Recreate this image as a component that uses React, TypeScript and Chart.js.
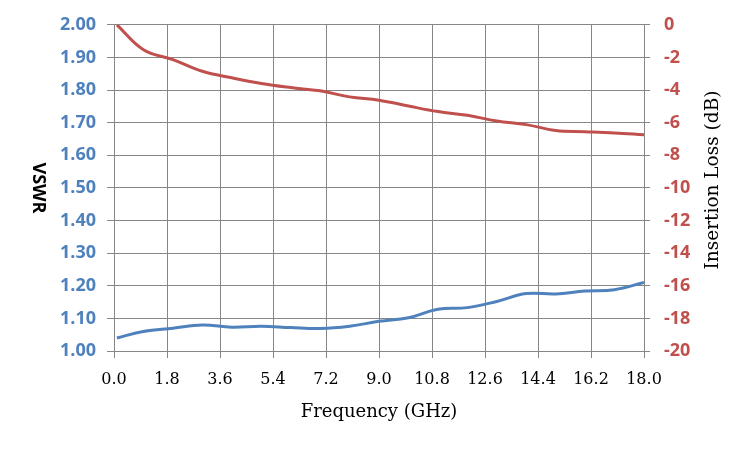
import React, { useEffect, useRef } from 'react';
import { Chart, ChartConfiguration, Plugin, registerables } from 'chart.js';

Chart.register(...registerables);

// frequency points (GHz)
const freqs = [0.1, 1, 2, 3, 4, 5, 6, 7, 8, 9, 10, 11, 12, 13, 14, 15, 16, 17, 18];
// VSWR (left axis)
const vswr = [1.04, 1.06, 1.07, 1.08, 1.073, 1.076, 1.072, 1.069, 1.076, 1.091, 1.102, 1.128, 1.133, 1.152, 1.176, 1.175, 1.184, 1.188, 1.21];
// Insertion loss in dB (right axis)
const insertionLoss = [0, -1.53, -2.13, -2.85, -3.25, -3.6, -3.85, -4.05, -4.42, -4.62, -4.98, -5.32, -5.55, -5.9, -6.12, -6.48, -6.55, -6.63, -6.74];

const xTitle = 'Frequency (GHz)';
const leftTitle = 'VSWR';
const rightTitle = 'Insertion Loss (dB)';

const BLUE = '#4F81BD';
const RED = '#C0504D';
const GRID = '#868686';

const titlesPlugin: Plugin = {
  id: 'axisTitles',
  afterDraw(chart) {
    const { ctx, chartArea } = chart;
    const midY = (chartArea.top + chartArea.bottom) / 2;
    ctx.save();
    ctx.fillStyle = '#000';
    ctx.textAlign = 'center';
    ctx.textBaseline = 'middle';

    // left title, rotated clockwise
    ctx.save();
    ctx.translate(38.5, midY);
    ctx.rotate(Math.PI / 2);
    ctx.font = 'bold 18px "Open Sans"';
    ctx.fillText(leftTitle, 0, 0);
    ctx.restore();

    // right title, rotated counter-clockwise
    ctx.save();
    ctx.translate(713, 180);
    ctx.rotate(-Math.PI / 2);
    ctx.font = '18.5px "DejaVu Serif"';
    ctx.fillText(rightTitle, 0, 0);
    ctx.restore();

    ctx.font = '18px "DejaVu Serif"';
    ctx.fillText(xTitle, (chartArea.left + chartArea.right) / 2, 412);
    ctx.restore();
  },
};

const App: React.FC = () => {
  const canvasRef = useRef<HTMLCanvasElement | null>(null);

  useEffect(() => {
    document.body.style.margin = '0';
    if (!canvasRef.current) return;

    const config: ChartConfiguration<'line'> = {
      type: 'line',
      data: {
        datasets: [
          {
            label: 'VSWR',
            data: freqs.map((f, i) => ({ x: f, y: vswr[i] })),
            borderColor: BLUE,
            borderWidth: 3,
            pointRadius: 0,
            tension: 0.4,
            yAxisID: 'y',
          },
          {
            label: 'Insertion Loss',
            data: freqs.map((f, i) => ({ x: f, y: insertionLoss[i] })),
            borderColor: RED,
            borderWidth: 3,
            pointRadius: 0,
            tension: 0.4,
            yAxisID: 'y2',
          },
        ],
      },
      options: {
        responsive: false,
        animation: false,
        layout: { padding: { top: 23, left: 0, right: 0, bottom: 0 } },
        plugins: {
          legend: { display: false },
          tooltip: { enabled: false },
        },
        scales: {
          x: {
            type: 'linear',
            min: 0,
            max: 18,
            grid: { color: GRID, tickLength: 7, tickColor: GRID },
            border: { color: GRID },
            ticks: {
              stepSize: 1.8,
              color: '#000',
              padding: 12,
              font: { family: '"DejaVu Serif"', size: 16 },
              callback: (v) => Number(v).toFixed(1),
            },
            afterFit: (scale) => {
              scale.height = 99;
            },
          },
          y: {
            position: 'left',
            min: 1,
            max: 2,
            grid: { color: GRID, tickLength: 7, tickColor: GRID },
            border: { color: GRID },
            ticks: {
              stepSize: 0.1,
              color: BLUE,
              padding: 11,
              font: { family: '"Open Sans"', size: 18, weight: 'bold' },
              callback: (v) => Number(v).toFixed(2),
            },
            afterFit: (scale) => {
              scale.width = 114;
            },
          },
          y2: {
            position: 'right',
            min: -20,
            max: 0,
            grid: { drawOnChartArea: false, color: GRID, tickLength: 6, tickColor: GRID },
            border: { color: GRID },
            ticks: {
              stepSize: 2,
              color: RED,
              padding: 14,
              font: { family: '"Open Sans"', size: 18, weight: 'bold' },
            },
            afterFit: (scale) => {
              scale.width = 106;
            },
          },
        },
      },
      plugins: [titlesPlugin],
    };

    const chart = new Chart(canvasRef.current, config);
    return () => chart.destroy();
  }, []);

  return <canvas ref={canvasRef} width={750} height={450} />;
};

export default App;
